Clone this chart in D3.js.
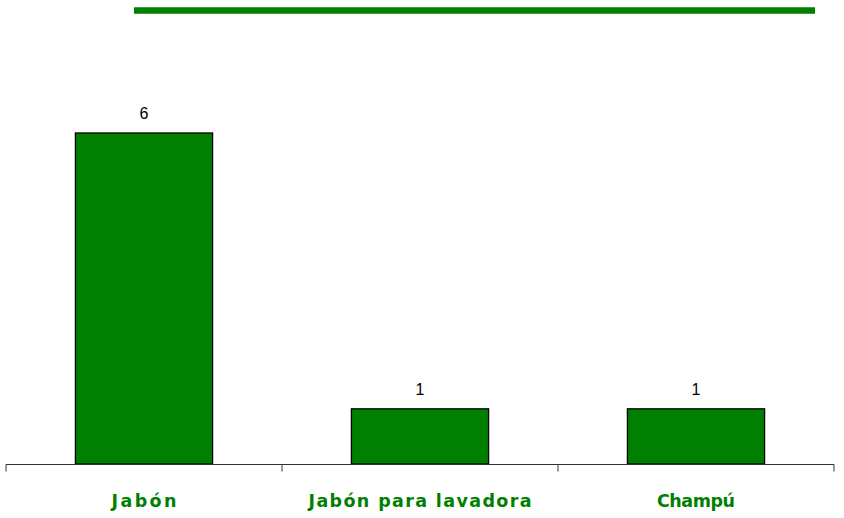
<!DOCTYPE html>
<html>
<head>
<meta charset="utf-8">
<script src="https://cdn.jsdelivr.net/npm/d3@7"></script>
<style>
  html, body { margin: 0; padding: 0; background: #fff; }
  svg { display: block; }
</style>
</head>
<body>
<svg id="chart" width="844" height="518"></svg>
<script>
const categories = ["Jabón", "Jabón para lavadora", "Champú"];
const values = [6, 1, 1];
const labelWidths = [65, 223, 78];

const svg = d3.select("#chart");
const x = d3.scaleBand().domain(categories).range([6, 834]).paddingInner(0).paddingOuter(0);
const y = d3.scaleLinear().domain([0, 6]).range([464, 133]);
const green = "#008000";

// top decorative line
svg.append("line")
  .attr("x1", 134).attr("x2", 815)
  .attr("y1", 10.5).attr("y2", 10.5)
  .attr("stroke", green).attr("stroke-width", 6.5);

// bars
const barW = x.bandwidth() * 0.497;
svg.selectAll("rect.bar").data(values).join("rect")
  .attr("class", "bar")
  .attr("x", (d, i) => x(categories[i]) + (x.bandwidth() - barW) / 2)
  .attr("y", d => y(d))
  .attr("width", barW)
  .attr("height", d => y(0) - y(d))
  .attr("fill", green)
  .attr("stroke", "#000")
  .attr("stroke-width", 1.3);

// axis
const axisG = svg.append("g").attr("transform", "translate(0,464.5)");
axisG.append("line").attr("x1", 6).attr("x2", 834).attr("y1", 0).attr("y2", 0)
  .attr("stroke", "#333").attr("stroke-width", 1);
const tickPos = categories.map(c => x(c)).concat([x.range()[1]]);
axisG.selectAll("line.tick").data(tickPos).join("line")
  .attr("class", "tick")
  .attr("x1", d => d).attr("x2", d => d)
  .attr("y1", 0).attr("y2", 7)
  .attr("stroke", "#333").attr("stroke-width", 1);

// category labels
svg.selectAll("text.cat").data(categories).join("text")
  .attr("class", "cat")
  .attr("x", d => x(d) + x.bandwidth() / 2)
  .attr("y", 507)
  .attr("text-anchor", "middle")
  .attr("font-family", "'DejaVu Sans', sans-serif")
  .attr("font-weight", "bold")
  .attr("font-size", 17.5)
  .attr("fill", green)
  .attr("textLength", (d, i) => labelWidths[i])
  .attr("lengthAdjust", "spacing")
  .text(d => d);

// value labels
svg.selectAll("text.val").data(values).join("text")
  .attr("class", "val")
  .attr("x", (d, i) => x(categories[i]) + x.bandwidth() / 2)
  .attr("y", d => y(d) - 14)
  .attr("text-anchor", "middle")
  .attr("font-family", "'Liberation Sans', Arial, sans-serif")
  .attr("font-size", 16)
  .attr("fill", "#000")
  .text(d => d);
</script>
</body>
</html>
